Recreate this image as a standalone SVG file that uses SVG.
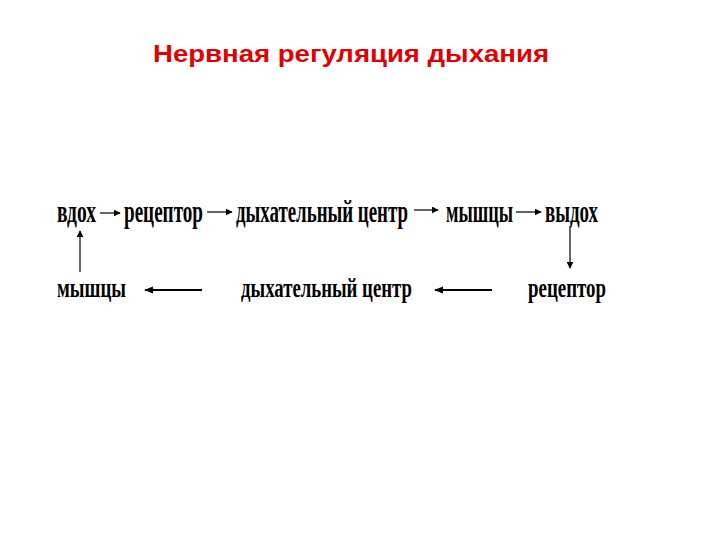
<svg xmlns="http://www.w3.org/2000/svg" width="720" height="540" viewBox="0 0 720 540">
<style>
.t{font-family:"Liberation Serif","Times New Roman",serif;font-weight:bold;fill:#000}
.r1{font-size:31px}
.r2{font-size:28px}
.title{font-family:"Liberation Sans",Arial,sans-serif;font-weight:bold;font-size:24px;fill:#e00000}
.a{stroke:#000;fill:none}
.a1{stroke-width:1.2}
.a2{stroke-width:1.8}
</style>
<defs>
<marker id="ah" viewBox="0 0 10 10" refX="9" refY="5" markerWidth="7" markerHeight="7" markerUnits="userSpaceOnUse" orient="auto">
<path d="M0,0 L10,5 L0,10 z" fill="#000"/>
</marker>
<marker id="ah2" viewBox="0 0 10 10" refX="9" refY="5" markerWidth="9" markerHeight="9" markerUnits="userSpaceOnUse" orient="auto">
<path d="M0,1 L10,5 L0,9 z" fill="#000"/>
</marker>
</defs>
<rect width="720" height="540" fill="#fff"/>
<text class="title" x="153" y="62" textLength="396" lengthAdjust="spacingAndGlyphs">Нервная регуляция дыхания</text>
<g id="n-vdoh"><text class="t r1" transform="translate(57,222) scale(0.65,1)" textLength="60" lengthAdjust="spacingAndGlyphs">вдох</text></g>
<g id="n-receptor1"><text class="t r1" transform="translate(124,222) scale(0.65,1)" textLength="121.5" lengthAdjust="spacingAndGlyphs">рецептор</text></g>
<g id="n-center1"><text class="t r1" transform="translate(236,222) scale(0.65,1)" textLength="264.6" lengthAdjust="spacingAndGlyphs">дыхательный центр</text></g>
<g id="n-muscles1"><text class="t r1" transform="translate(446,222) scale(0.65,1)" textLength="103" lengthAdjust="spacingAndGlyphs">мышцы</text></g>
<g id="n-vydoh"><text class="t r1" transform="translate(545,222) scale(0.65,1)" textLength="81.5" lengthAdjust="spacingAndGlyphs">выдох</text></g>
<g id="n-muscles2"><text class="t r2" transform="translate(57,297) scale(0.65,1)" textLength="106" lengthAdjust="spacingAndGlyphs">мышцы</text></g>
<g id="n-center2"><text class="t r2" transform="translate(241,297) scale(0.65,1)" textLength="263" lengthAdjust="spacingAndGlyphs">дыхательный центр</text></g>
<g id="n-receptor2"><text class="t r2" transform="translate(528,297) scale(0.65,1)" textLength="120" lengthAdjust="spacingAndGlyphs">рецептор</text></g>
<g id="connectors">
<line class="a a1" x1="100" y1="213" x2="120" y2="213" marker-end="url(#ah)"/>
<line class="a a1" x1="207" y1="212" x2="232" y2="212" marker-end="url(#ah)"/>
<line class="a a1" x1="414" y1="210" x2="438" y2="210" marker-end="url(#ah)"/>
<line class="a a1" x1="516" y1="212" x2="541" y2="212" marker-end="url(#ah)"/>
<line class="a a1" x1="570" y1="226" x2="570" y2="268" marker-end="url(#ah)"/>
<line class="a a1" x1="80" y1="272" x2="80" y2="231" marker-end="url(#ah)"/>
<line class="a a2" x1="202" y1="290" x2="145" y2="290" marker-end="url(#ah2)"/>
<line class="a a2" x1="492" y1="290" x2="435" y2="290" marker-end="url(#ah2)"/>
</g>
</svg>
